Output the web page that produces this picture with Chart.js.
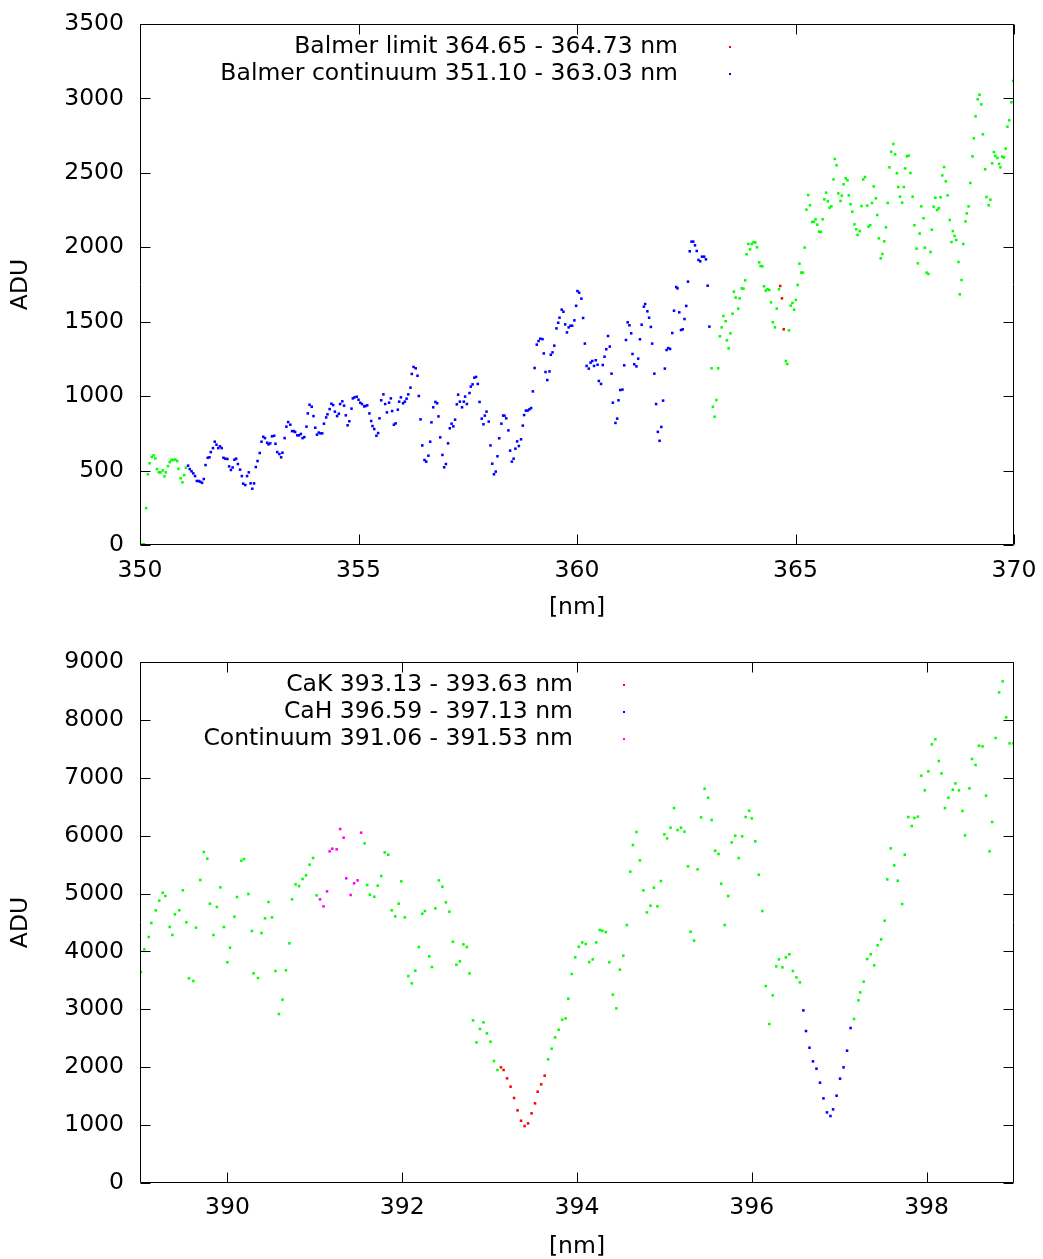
<!DOCTYPE html>
<html>
<head>
<meta charset="utf-8">
<script src="https://cdn.jsdelivr.net/npm/chart.js@4.4.1/dist/chart.umd.min.js"></script>
<style>
  html, body { margin: 0; padding: 0; background: #fff; overflow: hidden; }
  #wrap { position: relative; width: 1043px; height: 1259px; overflow: hidden; }
  canvas { position: absolute; left: 0; }
  #balmer { top: 0; }
  #calcium { top: 630px; }
</style>
</head>
<body>
<div id="wrap">
  <canvas id="balmer" width="1043" height="630"></canvas>
  <canvas id="calcium" width="1043" height="640"></canvas>
</div>
<script>
// ---------- Balmer region (350 - 370 nm) ----------
const balmerXTicks = [350, 355, 360, 365, 370];
const balmerYTicks = [0, 500, 1000, 1500, 2000, 2500, 3000, 3500];
const balmerLimitLabel = 'Balmer limit 364.65 - 364.73 nm';
const balmerContLabel = 'Balmer continuum 351.10 - 363.03 nm';

// full spectrum outside the highlighted ranges
const balmerSpecNm = [
  350.03,350.09,350.14,350.18,350.22,350.27,350.31,350.35,350.39,350.43,350.47,350.52,350.56,350.59,350.64,350.68,350.72,350.76,350.81,350.85,350.88,350.93,350.97,351.01,351.05,
  363.08,363.11,363.15,363.19,363.23,363.27,363.31,363.35,363.40,363.43,363.47,363.51,363.56,363.59,363.63,363.69,363.72,363.77,363.81,363.85,363.88,363.92,363.96,364.00,364.04,364.08,364.12,364.17,364.20,364.24,364.28,364.32,364.36,364.40,364.44,364.48,364.53,364.57,364.62,
  364.78,364.81,364.85,364.89,364.93,364.97,365.01,365.05,365.09,365.13,365.17,365.21,365.25,365.29,365.33,365.38,365.42,365.46,365.50,365.54,365.58,365.62,365.66,365.70,365.74,365.78,365.82,365.87,365.90,365.94,365.98,
  366.03,366.06,366.10,366.15,366.19,366.22,366.26,366.30,366.35,366.39,366.42,366.47,366.51,366.55,366.59,366.64,366.67,366.71,366.75,366.79,366.84,366.87,366.91,366.95,366.99,
  367.03,367.07,367.11,367.15,367.19,367.24,367.28,367.32,367.35,367.39,367.44,367.48,367.51,367.55,367.59,367.63,367.68,367.72,367.77,367.80,367.84,367.88,367.93,367.96,
  368.00,368.04,368.09,368.12,368.16,368.20,368.24,368.28,368.32,368.36,368.40,368.44,368.48,368.53,368.57,368.60,368.64,368.68,368.73,368.76,368.80,368.84,368.89,368.92,368.96,
  369.00,369.05,369.08,369.12,369.17,369.21,369.25,369.29,369.34,369.37,369.42,369.46,369.50,369.54,369.57,369.62,369.66,369.69,369.73,369.77,369.81,369.85,369.89,369.94,369.98
];
const balmerSpecAdu = [
  5,5,248,475,549,591,602,582,510,488,488,501,461,488,530,557,571,571,575,564,512,448,421,470,519,
  1187,929,862,974,1187,1402,1462,1538,1503,1375,1321,1422,1554,1702,1662,1588,1657,1724,1722,1778,1953,2022,1986,2022,2033,2033,2000,1899,1874,1872,1738,1709,1718,1713,1630,1496,1462,1588,1718,
  1236,1216,1442,1608,1626,1581,1646,1747,1890,1830,1830,1998,2253,2351,2282,2170,2172,2188,2152,2105,2103,2188,2322,2367,2309,2266,2275,2456,2593,2551,2362,
  2311,2347,2423,2463,2450,2349,2289,2239,2154,2121,2083,2109,2277,2456,2472,2280,2139,2148,2298,2409,2329,2217,2060,1926,1955,
  2040,2134,2298,2537,2642,2694,2624,2497,2405,2340,2300,2405,2530,2611,2616,2499,2340,2148,1991,1892,2092,2275,2195,1997,
  1830,1821,1968,2118,2273,2333,2250,2262,2336,2483,2539,2443,2349,2183,2035,2109,2076,2049,1901,1684,1780,2022,2174,2228,2275,
  2432,2611,2732,2880,2994,3025,2960,2759,2524,2338,2282,2320,2564,2640,2613,2600,2560,2537,2609,2604,2663,2810,2853,2974,3117
];

const balmerLimitNm = [364.65, 364.69, 364.73];
const balmerLimitAdu = [1740, 1657, 1449];

const balmerContNm = [
  351.10,351.14,351.18,351.22,351.26,351.30,351.34,351.38,351.42,351.46,351.50,351.55,351.59,351.62,351.67,351.71,351.75,351.79,351.83,351.87,351.91,351.95,
  352.00,352.04,352.08,352.12,352.16,352.20,352.24,352.29,352.33,352.36,352.41,352.45,352.49,352.53,352.57,352.61,352.65,352.69,352.74,352.78,352.82,352.86,352.91,352.94,352.98,
  353.02,353.07,353.10,353.14,353.19,353.23,353.26,353.31,353.35,353.39,353.44,353.48,353.52,353.55,353.60,353.64,353.68,353.72,353.76,353.81,353.84,353.88,353.93,353.97,
  354.01,354.05,354.09,354.13,354.17,354.21,354.26,354.29,354.34,354.38,354.42,354.46,354.51,354.55,354.58,354.63,354.67,354.71,354.75,354.79,354.84,354.87,354.91,354.96,
  355.00,355.04,355.08,355.13,355.16,355.20,355.25,355.29,355.32,355.36,355.41,355.45,355.48,355.52,355.57,355.61,355.65,355.70,355.74,355.77,355.81,355.85,355.90,355.93,355.97,
  356.02,356.06,356.10,356.14,356.19,356.22,356.26,356.31,356.35,356.38,356.42,356.46,356.51,356.55,356.60,356.64,356.67,356.71,356.76,356.80,356.83,356.87,356.92,356.96,
  357.00,357.05,357.09,357.13,357.17,357.21,357.25,357.28,357.32,357.37,357.41,357.44,357.48,357.54,357.57,357.61,357.65,357.69,357.73,357.77,357.82,357.86,357.89,357.93,357.98,
  358.02,358.06,358.10,358.14,358.18,358.22,358.27,358.31,358.34,358.38,358.43,358.47,358.51,358.55,358.59,358.63,358.67,358.72,358.76,358.79,358.83,358.87,358.91,358.95,358.99,
  359.03,359.08,359.12,359.16,359.21,359.24,359.28,359.32,359.37,359.40,359.44,359.48,359.53,359.57,359.60,359.65,359.69,359.73,359.77,359.81,359.85,359.89,359.94,359.98,
  360.01,360.05,360.10,360.14,360.18,360.22,360.27,360.31,360.35,360.39,360.43,360.47,360.50,360.55,360.59,360.63,360.67,360.71,360.75,360.79,360.82,360.88,360.92,360.95,360.99,
  361.04,361.08,361.12,361.16,361.20,361.24,361.27,361.31,361.36,361.40,361.44,361.48,361.53,361.56,361.61,361.65,361.69,361.72,361.77,361.81,361.85,361.89,361.93,361.97,
  362.01,362.05,362.09,362.13,362.18,362.22,362.27,362.30,362.34,362.38,362.42,362.46,362.50,362.54,362.58,362.62,362.66,362.70,362.74,362.78,362.82,362.86,362.91,362.95,362.99,363.03
];
const balmerContAdu = [
  533,510,495,481,463,430,430,425,418,443,537,586,589,624,651,694,674,651,663,651,586,580,
  578,528,504,521,573,580,544,506,463,412,403,463,488,414,378,414,524,564,618,694,727,718,687,676,683,
  730,734,680,624,611,589,620,718,795,826,808,765,765,759,737,737,746,718,725,795,884,942,929,866,
  788,741,755,750,750,815,857,878,913,949,940,896,866,882,947,965,936,871,804,831,916,985,992,996,
  976,956,947,931,934,938,884,833,799,779,734,752,851,972,1012,947,891,956,985,900,808,817,909,963,992,
  952,963,983,1012,1057,1149,1196,1187,1137,1001,844,669,571,560,600,694,824,925,961,952,864,723,605,522,
  544,683,784,815,797,842,945,1010,963,925,963,997,947,1021,1064,1079,1124,1129,1082,961,849,811,869,896,829,
  669,546,475,493,596,717,815,869,869,851,770,634,560,580,647,696,665,710,802,873,903,903,911,920,1032,
  1189,1346,1370,1386,1383,1287,1162,1108,1166,1278,1294,1339,1455,1493,1527,1581,1567,1482,1428,1462,1473,1473,1509,1607,
  1706,1695,1655,1525,1353,1203,1185,1225,1236,1203,1241,1211,1102,1082,1209,1265,1315,1404,1333,1151,956,820,849,972,1041,
  1044,1207,1377,1496,1476,1422,1283,1214,1200,1252,1382,1480,1601,1619,1570,1527,1465,1353,1151,947,760,700,793,970,
  1185,1310,1323,1317,1424,1574,1733,1724,1563,1444,1449,1518,1606,1769,1973,2038,2038,2013,1975,1915,1906,1937,1937,1919,1742,1467
];

// ---------- Ca II H & K region (389 - 399 nm) ----------
const caXTicks = [390, 392, 394, 396, 398];
const caYTicks = [0, 1000, 2000, 3000, 4000, 5000, 6000, 7000, 8000, 9000];
const caKLabel = 'CaK 393.13 - 393.63 nm';
const caHLabel = 'CaH 396.59 - 397.13 nm';
const caContLabel = 'Continuum 391.06 - 391.53 nm';

const caSpecNm = [
  389.01,389.05,389.10,389.13,389.18,389.22,389.26,389.29,389.34,389.37,389.40,389.45,389.49,389.53,389.56,389.61,389.64,389.69,389.73,389.77,389.80,389.84,389.88,389.92,389.96,
  390.00,390.03,390.08,390.11,390.16,390.19,390.24,390.28,390.30,390.35,390.39,390.43,390.47,390.51,390.55,390.59,390.63,390.67,390.71,390.74,390.78,390.82,390.86,390.90,390.94,390.98,391.02,
  391.57,391.60,391.63,391.68,391.72,391.76,391.80,391.84,391.88,391.92,391.96,391.99,
  392.03,392.07,392.11,392.15,392.19,392.23,392.26,392.31,392.34,392.38,392.42,392.46,392.50,392.54,392.58,392.62,392.66,392.70,392.74,392.77,392.81,392.85,392.89,392.93,392.97,
  393.01,393.05,393.09,
  393.67,393.71,393.75,393.79,393.83,393.87,393.90,393.94,393.98,
  394.02,394.06,394.10,394.14,394.18,394.22,394.26,394.29,394.33,394.37,394.41,394.45,394.49,394.53,394.57,394.61,394.64,394.68,394.72,394.76,394.80,394.84,394.88,394.92,394.96,
  395.00,395.03,395.07,395.11,395.15,395.19,395.23,395.27,395.30,395.34,395.38,395.42,395.46,395.50,395.54,395.58,395.62,395.65,395.69,395.73,395.77,395.81,395.85,395.89,395.93,395.97,
  396.00,396.04,396.08,396.12,396.16,396.20,396.24,396.28,396.31,396.35,396.39,396.43,396.47,396.51,396.55,
  397.17,397.22,397.24,397.28,397.32,397.36,397.40,397.44,397.48,397.52,397.55,397.59,397.63,397.67,397.72,397.75,397.79,397.83,397.86,397.90,397.94,397.98,
  398.02,398.06,398.10,398.14,398.17,398.21,398.25,398.30,398.33,398.37,398.41,398.44,398.49,398.52,398.56,398.60,398.64,398.68,398.72,398.75,398.79,398.83,398.87,398.91,398.95,398.99
];
const caSpecAdu = [
  3645,4036,4250,4491,4710,4877,5015,4958,4422,4284,4641,4710,5056,4503,3536,3489,4411,5234,5718,5603,4825,4284,4768,5107,4422,
  3812,4065,4601,4940,5568,5597,4992,4353,3622,3541,4319,4572,4854,4589,3662,2919,3167,3674,4140,4900,5159,5130,5251,5315,5499,5614,4969,
  5867,5148,4980,4946,5136,5303,5711,5671,4710,4606,4825,5211,
  4589,3575,3449,3667,4076,4652,4698,3915,3731,4744,5228,5118,4848,4687,4168,3771,3829,4122,4076,3621,2809,2429,2660,2775,2585,
  2441,2107,1952,
  2136,2320,2516,2648,2821,2844,3184,3610,3898,
  4082,4157,4128,3817,3863,4157,4370,4358,4335,3812,3253,3017,3685,3927,4456,5378,5838,6063,5573,5055,4675,4790,5101,4779,5216,
  6022,5953,6138,6477,6097,6138,6069,5470,4341,4186,5418,6316,6811,6656,6270,5740,5683,5170,4456,4957,5884,5999,5614,5988,6322,6431,
  6299,5902,5326,4698,3402,2746,3241,3742,3863,3725,3898,3950,3662,3552,3466,
  2833,3155,3293,3477,3869,3950,3760,4105,4209,4531,5245,5781,5487,5222,4819,5671,6322,6166,6305,6328,7036,6783,
  7111,7577,7664,7289,7076,6477,6656,6794,6903,6783,6426,6005,6817,7324,7220,7554,7542,6691,5729,6236,7687,8475,8666,8044,7594,7594
];

const caKNm = [393.13,393.16,393.20,393.24,393.28,393.32,393.36,393.40,393.44,393.48,393.52,393.55,393.59,393.63];
const caKAdu = [1998,1952,1808,1664,1468,1255,1076,984,1030,1203,1376,1577,1704,1854];

const caHNm = [396.59,396.62,396.66,396.70,396.74,396.78,396.82,396.86,396.90,396.93,396.97,397.01,397.05,397.09,397.13];
const caHAdu = [2982,2625,2337,2101,1975,1733,1462,1220,1157,1272,1508,1802,1998,2286,2677];

const caContNm = [391.06,391.10,391.14,391.17,391.20,391.25,391.29,391.33,391.36,391.41,391.45,391.49,391.53];
const caContAdu = [4900,4779,5038,5729,5775,5764,6115,5965,5263,4975,5177,5228,6052];

// ---------- drawing ----------
const FONT = "'DejaVu Sans', 'Liberation Sans', sans-serif";
const FONT_SIZE = 23.5;
const pts = (xs, ys) => xs.map((x, i) => ({ x: x, y: ys[i] }));

function dots(points, color, key) {
  return {
    data: points,
    label: key || '',
    keyText: key || null,
    backgroundColor: color,
    borderWidth: 0,
    pointStyle: 'rect',
    pointRadius: 1.8,
    pointHoverRadius: 1.8,
    showLine: false
  };
}

// gnuplot-like frame: full border, inward tics on all four sides, key at top
const gnuplotFrame = {
  id: 'gnuplotFrame',
  afterDatasetsDraw(chart, args, opts) {
    const { ctx, chartArea: a, scales } = chart;
    const xs = scales.x, ys = scales.y;
    const L = Math.round(a.left) + 0.5, R = Math.round(a.right) - 0.5;
    const T = Math.round(a.top) + 0.5, B = Math.round(a.bottom) - 0.5;
    const len = 10;
    ctx.save();
    ctx.strokeStyle = '#000';
    ctx.lineWidth = 1;
    ctx.beginPath();
    ctx.rect(L, T, R - L, B - T);
    xs.ticks.forEach(t => {
      const p = Math.round(xs.getPixelForValue(t.value)) + 0.5;
      ctx.moveTo(p, B); ctx.lineTo(p, B - len);
      ctx.moveTo(p, T); ctx.lineTo(p, T + len);
    });
    ys.ticks.forEach(t => {
      const p = Math.round(ys.getPixelForValue(t.value)) + 0.5;
      ctx.moveTo(L, p); ctx.lineTo(L + len, p);
      ctx.moveTo(R, p); ctx.lineTo(R - len, p);
    });
    ctx.stroke();

    // key entries: right-aligned text followed by a sample dot
    ctx.font = FONT_SIZE + 'px ' + FONT;
    ctx.textAlign = 'right';
    ctx.textBaseline = 'middle';
    const keyed = chart.data.datasets.filter(ds => ds.keyText);
    keyed.forEach((ds, i) => {
      const yy = opts.top + i * opts.gap;
      ctx.fillStyle = '#000';
      ctx.fillText(ds.keyText, opts.textRight, yy);
      ctx.fillStyle = ds.backgroundColor;
      ctx.fillRect(opts.markX - 1, yy - 1, 2, 2);
    });
    ctx.restore();
  }
};

function axis(ticksArr, min, max, fit, titleText, titlePad, tickPad) {
  return {
    type: 'linear',
    min: min,
    max: max,
    grid: { display: false, drawTicks: false },
    border: { display: false },
    afterBuildTicks: s => { s.ticks = ticksArr.map(v => ({ value: v })); },
    afterFit: fit,
    ticks: {
      color: '#000',
      font: { family: FONT, size: FONT_SIZE },
      padding: tickPad,
      maxRotation: 0,
      autoSkip: false,
      callback: v => String(v)
    },
    title: {
      display: true,
      text: titleText,
      color: '#000',
      font: { family: FONT, size: FONT_SIZE },
      padding: titlePad
    }
  };
}

function makeChart(id, c) {
  const xAxis = axis(c.xTicks, c.xMin, c.xMax, s => {
    s.height = c.xAxisHeight; s.paddingLeft = 0; s.paddingRight = 0;
  }, '[nm]', { top: 0, bottom: c.xTitlePad }, c.xTickPad);
  const yAxis = axis(c.yTicks, c.yMin, c.yMax, s => {
    s.width = 140; s.paddingTop = 0; s.paddingBottom = 0;
  }, 'ADU', { top: 7, bottom: 0 }, 16);
  return new Chart(document.getElementById(id), {
    type: 'scatter',
    data: { datasets: c.datasets },
    options: {
      responsive: false,
      animation: false,
      devicePixelRatio: 1,
      events: [],
      layout: { padding: { top: c.padTop, right: 29, left: 0, bottom: 0 } },
      plugins: {
        legend: { display: false },
        tooltip: { enabled: false },
        gnuplotFrame: c.key
      },
      scales: { x: xAxis, y: yAxis }
    },
    plugins: [gnuplotFrame]
  });
}

// datasets listed first are drawn on top
makeChart('balmer', {
  xMin: 350, xMax: 370, yMin: 0, yMax: 3500,
  xTicks: balmerXTicks, yTicks: balmerYTicks,
  padTop: 24, xAxisHeight: 85, xTitlePad: 8, xTickPad: 12,
  key: { textRight: 678, markX: 730, top: 47, gap: 27 },
  datasets: [
    dots(pts(balmerLimitNm, balmerLimitAdu), '#ff0000', balmerLimitLabel),
    dots(pts(balmerContNm, balmerContAdu), '#0000ff', balmerContLabel),
    dots(pts(balmerSpecNm, balmerSpecAdu), '#00ff00', null)
  ]
});

makeChart('calcium', {
  xMin: 389, xMax: 399, yMin: 0, yMax: 9000,
  xTicks: caXTicks, yTicks: caYTicks,
  padTop: 32, xAxisHeight: 87, xTitlePad: 9, xTickPad: 11,
  key: { textRight: 573, markX: 624, top: 55, gap: 27 },
  datasets: [
    dots(pts(caKNm, caKAdu), '#ff0000', caKLabel),
    dots(pts(caHNm, caHAdu), '#0000ff', caHLabel),
    dots(pts(caContNm, caContAdu), '#ff00ff', caContLabel),
    dots(pts(caSpecNm, caSpecAdu), '#00ff00', null)
  ]
});
</script>
</body>
</html>
